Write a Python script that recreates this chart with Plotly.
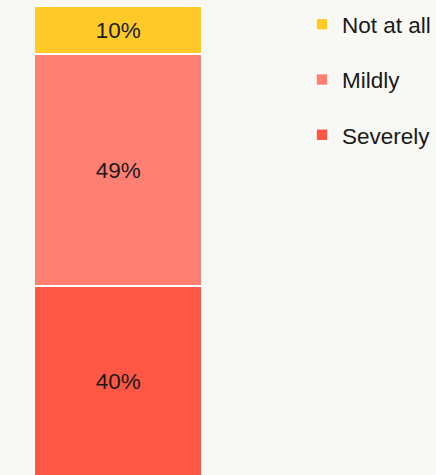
import plotly.graph_objects as go

categories = ["All"]
series_names = ["Severely", "Mildly", "Not at all"]
severely = [40]
mildly = [49]
not_at_all = [10]
colors = ["#ff5745", "#ff7f73", "#ffca28"]
legend_ranks = [3, 2, 1]

fig = go.Figure()
for name, vals, col, rank in zip(series_names, [severely, mildly, not_at_all], colors, legend_ranks):
    fig.add_trace(go.Bar(
        x=categories, y=vals, name=name, legendgroup=name, legendrank=rank,
        marker=dict(color=col, line=dict(color="#ffffff", width=1.6)),
        texttemplate="%{y}%", textposition="inside", insidetextanchor="middle",
        textangle=0, constraintext="none",
        textfont=dict(size=22.5, color="#1a1a1a"),
        hoverinfo="skip",
    ))

fig.update_layout(
    width=436, height=475,
    barmode="stack", bargap=0,
    paper_bgcolor="#f8f8f4", plot_bgcolor="#f8f8f4",
    margin=dict(l=35, r=233, t=5, b=0),
    font=dict(family="Liberation Sans, Arial, sans-serif", size=22.5, color="#1a1a1a"),
    xaxis=dict(visible=False),
    yaxis=dict(visible=False, range=[0.5, 99.48]),
    showlegend=True,
    legend=dict(
        traceorder="grouped", tracegroupgap=23,
        x=(302 - 35) / 168, xanchor="left", y=1.004, yanchor="top",
        bgcolor="rgba(0,0,0,0)", font=dict(size=22.5, color="#1a1a1a"),
    ),
)

fig.write_html(
    "out.html",
    config={"displayModeBar": False},
    post_script="document.body.style.margin='0';document.body.style.background='#f8f8f4';document.body.style.overflow='hidden';",
)
